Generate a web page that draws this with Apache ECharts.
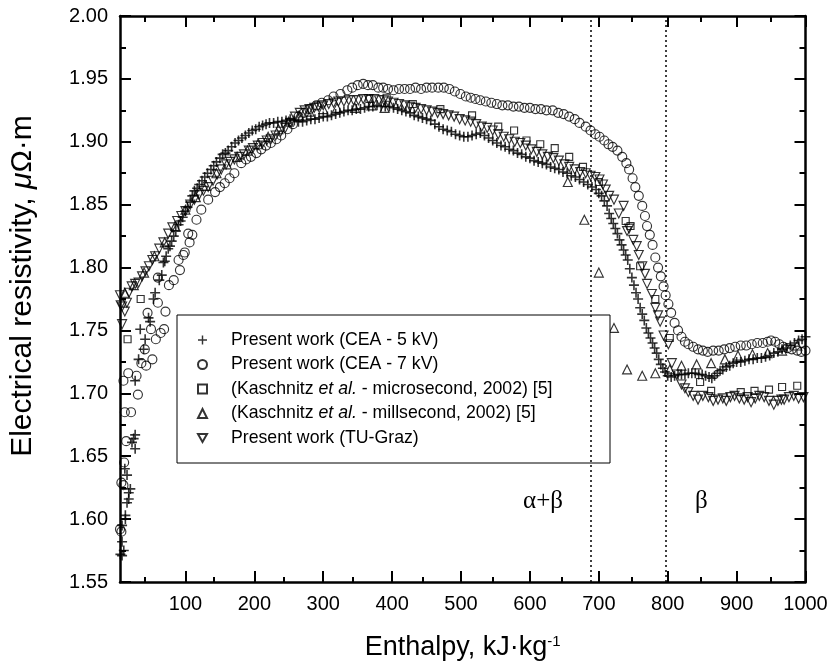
<!DOCTYPE html>
<html><head><meta charset="utf-8">
<script src="https://cdn.jsdelivr.net/npm/echarts/dist/echarts.min.js"></script>
<style>html,body{margin:0;padding:0;background:#fff}#c{width:833px;height:666px}</style>
</head><body><div id="c"></div>
<script>
const seriesNames = [
  'Present work (CEA - 5 kV)',
  'Present work (CEA - 7 kV)',
  '(Kaschnitz et al. - microsecond, 2002) [5]',
  '(Kaschnitz et al. - millsecond, 2002) [5]',
  'Present work (TU-Graz)'
];
const xMajorTicks = [100,200,300,400,500,600,700,800,900,1000];
const xMinorTicks = [50,150,250,350,450,550,650,750,850,950];
const phaseBoundaries = [688, 797];
const phaseLabels = [['α+β', 619, 1.614], ['β', 849, 1.614]];

const cea5kV = [[5.6,1.572],[8,1.571],[10.5,1.575],[8,1.582],[8,1.595],[12.8,1.600],[12.8,1.603],[15.2,1.613],[17.7,1.616],[17.7,1.621],[20,1.624],[15.2,1.635],[12,1.640],[27,1.656],[22.4,1.661],[24.8,1.664],[27,1.667],[27,1.710],[32,1.727],[39.2,1.735],[34.4,1.751],[41.5,1.743],[46.4,1.760],[48.7,1.757],[53.6,1.775],[56,1.780],[62,1.790],[65.6,1.794],
[68,1.804],[70,1.805],[72,1.809],[75,1.815],[77.5,1.817],[80,1.821],[83,1.825],[86,1.829],[90,1.834],[93,1.837],[96,1.840],[100,1.845],[103,1.848],[107,1.852],[110,1.857],[113,1.861],[117,1.863],[120,1.866],[124,1.869],[128,1.872],[132,1.875],[137,1.878],[141,1.881],[145,1.884],[150,1.887],[154,1.890],[158,1.891],[162,1.893],[167,1.896],[172,1.899],[177,1.901],[182,1.903],[187,1.905],[192,1.907],[197,1.909],[202,1.910],[207,1.912],[212,1.913],[217,1.914],[222,1.915],[228,1.915],[234,1.916],[240,1.916],[246,1.917],[252,1.918],[258,1.917],[264,1.916],[270,1.916],[276,1.917],[282,1.918],[288,1.918],[294,1.919],[300,1.920],[306,1.920],[312,1.921],[318,1.922],[324,1.923],[330,1.924],[336,1.925],[342,1.925],[348,1.926],[354,1.926],[360,1.927],[366,1.928],[372,1.928],[378,1.929],[384,1.928],[390,1.928],[396,1.928],[402,1.927],[408,1.926],[414,1.925],[420,1.924],[426,1.923],[432,1.921],[438,1.920],[444,1.919],[450,1.918],[456,1.917],[462,1.914],[468,1.912],[474,1.910],[480,1.909],[486,1.908],[492,1.906],[498,1.905],[504,1.904],[510,1.904],[516,1.905],[522,1.906],[528,1.907],[534,1.905],[540,1.903],[546,1.901],[552,1.899],[558,1.897],[564,1.896],[570,1.894],[576,1.893],[582,1.891],[588,1.890],[594,1.888],[600,1.887],[606,1.885],[612,1.884],[618,1.883],[624,1.882],[630,1.880],[636,1.879],[642,1.878],[648,1.876],[654,1.875],[660,1.873],[666,1.872],[672,1.870],[678,1.868],[684,1.866],[690,1.864],[696,1.862],[700,1.859],[704,1.857],[708,1.853],[712,1.849],[715,1.843],[718,1.839],[721,1.835],[724,1.831],[727,1.827],[730,1.822],[733,1.818],[736,1.814],[739,1.810],[742,1.806],[745,1.799],[748,1.792],[751,1.786],[754,1.780],[757,1.775],[760,1.768],[763,1.763],[766,1.758],[769,1.752],[772,1.748],[775,1.744],[778,1.740],[781,1.736],[784,1.732],[787,1.727],[790,1.723],[793,1.720],[796,1.717],[800,1.714],[805,1.713],[810,1.714],[815,1.715],[820,1.715],[825,1.715],[830,1.716],[835,1.716],[840,1.716],[845,1.715],[850,1.715],[855,1.714],[860,1.713],[864,1.712],[868,1.714],[872,1.716],[876,1.718],[880,1.719],[885,1.721],[890,1.722],[895,1.724],[900,1.725],[906,1.725],[912,1.726],[918,1.727],[924,1.727],[930,1.728],[936,1.728],[942,1.729],[948,1.730],[954,1.732],[960,1.733],[966,1.735],[972,1.736],[978,1.738],[984,1.740],[990,1.742],[995,1.743],[1000,1.745]];

const cea7kV = [[5,1.592],[7,1.590],[7,1.629],[10,1.627],[11,1.645],[14,1.662],[12,1.685],[21,1.685],[10,1.710],[17,1.716],[29,1.714],[31,1.699],[36,1.724],[43,1.722],[41,1.735],[52,1.727],[57,1.743],[64,1.748],[69,1.751],[50,1.751],[45,1.764],[60,1.772],[71,1.765],[76,1.786],[60,1.792],[83,1.790],[92,1.798],[90,1.806],[97,1.810],[99,1.812],[106,1.820],[104,1.827],[110,1.826],[116,1.838],[123,1.846],[133,1.854],[143,1.860],[150,1.864],[157,1.867],[164,1.871],[171,1.875],[181,1.883],[188,1.886],[195,1.888],[203,1.891],[210,1.894],[217,1.897],[224,1.899],[232,1.902],[239,1.905],[248,1.910],[256,1.914],[264,1.920],[272,1.923],[280,1.926],[290,1.929],[298,1.931],[307,1.933],[315,1.936],[325,1.938],[335,1.941],[342,1.943],[350,1.945],[358,1.946],[365,1.945],[372,1.945],[380,1.943],[387,1.943],[394,1.942],[402,1.941],[410,1.942],[418,1.942],[426,1.942],[434,1.943],[442,1.942],[450,1.943],[458,1.943],[467,1.943],[475,1.943],[483,1.942],[491,1.940],[499,1.938],[507,1.936],[514,1.935],[521,1.934],[528,1.933],[536,1.932],[544,1.931],[552,1.930],[560,1.929],[568,1.929],[576,1.928],[584,1.928],[592,1.927],[600,1.927],[608,1.926],[616,1.926],[624,1.925],[633,1.925],[641,1.923],[649,1.922],[657,1.920],[665,1.918],[672,1.915],[681,1.912],[688,1.909],[695,1.906],[701,1.904],[708,1.901],[714,1.898],[720,1.896],[727,1.893],[734,1.888],[740,1.883],[744,1.878],[749,1.871],[753,1.864],[758,1.857],[763,1.849],[767,1.841],[770,1.833],[774,1.826],[778,1.818],[782,1.808],[786,1.800],[790,1.793],[794,1.785],[797,1.778],[801,1.771],[805,1.764],[810,1.756],[815,1.750],[820,1.745],[825,1.741],[830,1.739],[837,1.737],[844,1.735],[851,1.734],[858,1.733],[866,1.734],[874,1.734],[882,1.735],[890,1.736],[898,1.737],[906,1.738],[914,1.738],[922,1.739],[930,1.740],[938,1.740],[945,1.741],[950,1.742],[956,1.741],[962,1.739],[968,1.737],[974,1.736],[980,1.735],[988,1.734],[994,1.733],[1000,1.734]];

const kaschnitzMicro = [[16,1.743],[35,1.775],[367,1.934],[392,1.935],[430,1.930],[470,1.926],[516,1.921],[554,1.912],[577,1.909],[595,1.901],[615,1.898],[636,1.895],[657,1.888],[677,1.880],[700,1.868],[739,1.837],[746,1.833],[760,1.801],[782,1.775],[803,1.744],[847,1.709],[863,1.702],[906,1.701],[926,1.702],[947,1.703],[966,1.705],[988,1.706]];

const kaschnitzMilli = [[12,1.780],[25,1.786],[40,1.796],[55,1.809],[70,1.820],[85,1.833],[100,1.846],[115,1.856],[130,1.865],[145,1.875],[160,1.882],[175,1.888],[190,1.893],[205,1.898],[220,1.904],[235,1.910],[250,1.916],[265,1.921],[280,1.924],[300,1.926],[320,1.927],[346,1.927],[370,1.929],[389,1.927],[655,1.868],[679,1.838],[700,1.796],[722,1.752],[741,1.719],[763,1.714],[782,1.716],[803,1.719],[820,1.722],[842,1.723],[863,1.724],[883,1.727],[902,1.730],[923,1.731],[945,1.732],[966,1.734],[988,1.738]];

const tuGraz = [[5,1.778],[6,1.770],[8,1.769],[8,1.755],[12,1.765],[15,1.772],[18,1.780],[22,1.785],[27,1.787],[32,1.788],[37,1.793],[42,1.797],[47,1.801],[52,1.806],[56,1.809],[62,1.815],[68,1.820],[75,1.827],[81,1.832],[88,1.837],[94,1.841],[100,1.845],[107,1.850],[113,1.854],[120,1.858],[126,1.861],[133,1.864],[140,1.869],[146,1.874],[152,1.878],[159,1.882],[165,1.884],[171,1.886],[178,1.888],[185,1.890],[192,1.893],[198,1.895],[205,1.897],[212,1.899],[218,1.901],[224,1.902],[231,1.905],[238,1.908],[245,1.911],[252,1.915],[259,1.920],[266,1.923],[273,1.925],[280,1.926],[287,1.927],[293,1.928],[300,1.929],[308,1.930],[315,1.931],[322,1.932],[330,1.932],[337,1.933],[344,1.933],[351,1.933],[358,1.934],[366,1.934],[374,1.934],[381,1.933],[388,1.933],[394,1.932],[402,1.931],[410,1.930],[418,1.929],[426,1.928],[434,1.927],[442,1.926],[450,1.925],[458,1.924],[466,1.923],[474,1.922],[482,1.921],[490,1.920],[498,1.918],[506,1.917],[514,1.916],[522,1.914],[530,1.912],[538,1.911],[546,1.909],[554,1.906],[562,1.904],[570,1.902],[578,1.900],[586,1.899],[594,1.897],[602,1.894],[610,1.892],[618,1.890],[626,1.888],[634,1.887],[642,1.885],[650,1.882],[657,1.880],[665,1.878],[673,1.876],[681,1.875],[688,1.873],[695,1.872],[701,1.870],[706,1.866],[710,1.862],[715,1.857],[722,1.854],[729,1.843],[736,1.849],[741,1.829],[744,1.831],[750,1.822],[755,1.817],[758,1.810],[763,1.801],[767,1.795],[770,1.787],[777,1.779],[782,1.768],[786,1.762],[789,1.757],[794,1.746],[801,1.739],[806,1.724],[813,1.715],[820,1.707],[825,1.704],[830,1.701],[837,1.698],[844,1.695],[851,1.698],[859,1.697],[866,1.694],[873,1.695],[880,1.696],[885,1.694],[891,1.697],[897,1.698],[904,1.696],[911,1.695],[916,1.697],[921,1.693],[927,1.696],[933,1.698],[940,1.697],[947,1.694],[954,1.691],[960,1.694],[965,1.695],[969,1.695],[976,1.697],[983,1.698],[990,1.696],[997,1.697]];

const FONT = 'Liberation Sans';
const chart = echarts.init(document.getElementById('c'), null, {renderer: 'canvas'});
const plusPath = 'path://M4.2,0H5.8V4.2H10V5.8H5.8V10H4.2V5.8H0V4.2H4.2Z';
const downTri = 'path://M0,0L10,0L5,8.66Z';
const hollow = {color: 'rgba(0,0,0,0)', borderColor: '#000', borderWidth: 1.15};
const gridBox = {left: 113, right: 27.5, top: 16, bottom: 83};
const XMIN = 5, XMAX = 1000, YMIN = 1.55, YMAX = 2.0;

const majorX = (pos, labels) => ({
  gridIndex: 0, type: 'value', position: pos, min: XMIN, max: XMAX,
  axisLine: {show: true, lineStyle: {color: '#000', width: 2.5}},
  axisTick: {show: true, inside: true, length: 11, customValues: xMajorTicks, lineStyle: {color: '#000', width: 2}},
  axisLabel: labels ? {show: true, customValues: xMajorTicks, fontSize: 20, fontFamily: FONT, color: '#000', margin: 12, formatter: v => String(v)} : {show: false},
  splitLine: {show: false}
});
const minorX = (pos) => ({
  gridIndex: 1, type: 'value', position: pos, min: XMIN, max: XMAX,
  axisLine: {show: false},
  axisTick: {show: true, inside: true, length: 6, customValues: xMinorTicks, lineStyle: {color: '#000', width: 2}},
  axisLabel: {show: false}, splitLine: {show: false}
});
const yAx = (pos, labels) => ({
  gridIndex: 0, type: 'value', position: pos, min: YMIN, max: YMAX, interval: 0.05,
  axisLine: {show: true, lineStyle: {color: '#000', width: 2.5}},
  axisTick: {show: true, inside: true, length: 11, lineStyle: {color: '#000', width: 2}},
  minorTick: {show: true, splitNumber: 2, length: 6, lineStyle: {color: '#000', width: 2}},
  axisLabel: labels ? {show: true, fontSize: 20, fontFamily: FONT, color: '#000', margin: 12, formatter: v => v.toFixed(2)} : {show: false},
  splitLine: {show: false}
});

const xBottom = majorX('bottom', true);
xBottom.name = 'Enthalpy, kJ·kg{sup|-1}';
xBottom.nameLocation = 'middle';
xBottom.nameGap = 52;
xBottom.nameTextStyle = {fontSize: 27, fontFamily: FONT, color: '#000',
  rich: {sup: {fontSize: 15, fontFamily: FONT, color: '#000', verticalAlign: 'top', lineHeight: 15}}};
const yLeft = yAx('left', true);
yLeft.name = 'Electrical resistivity, {i|μ}Ω·m';
yLeft.nameLocation = 'middle';
yLeft.nameGap = 82;
yLeft.nameTextStyle = {fontSize: 30, fontFamily: FONT, color: '#000', padding: [0, 0, 0, 26],
  rich: {i: {fontStyle: 'italic', fontSize: 30, fontFamily: FONT, color: '#000'}}};

const mk = (name, data, symbol, size, style, extra) => Object.assign({
  name, type: 'scatter', data, symbol, symbolSize: size, itemStyle: style,
  xAxisIndex: 0, yAxisIndex: 0, silent: true, emphasis: {disabled: true}
}, extra || {});

chart.setOption({
  animation: false,
  backgroundColor: '#fff',
  grid: [Object.assign({}, gridBox), Object.assign({}, gridBox)],
  xAxis: [xBottom, majorX('top', false), minorX('bottom'), minorX('top')],
  yAxis: [yLeft, yAx('right', false), {gridIndex: 1, type: 'value', show: false, min: YMIN, max: YMAX}],
  legend: {
    orient: 'vertical', left: 197, top: 330, padding: 0, itemGap: 4.5,
    itemWidth: 9, itemHeight: 9, selectedMode: false, z: 5,
    data: seriesNames,
    formatter: n => n.replace('et al.', '{i|et al.}'),
    textStyle: {fontSize: 17.7, fontFamily: FONT, color: '#000', lineHeight: 20, padding: [0, 0, 0, 19],
      rich: {i: {fontStyle: 'italic', fontSize: 17.7, fontFamily: FONT, color: '#000', lineHeight: 20}}}
  },
  series: [
    mk(seriesNames[0], cea5kV, plusPath, 10, {color: '#000'}, {
      markLine: {silent: true, symbol: 'none', label: {show: false},
        lineStyle: {color: '#000', type: [2, 3], width: 1.5},
        data: phaseBoundaries.map(v => ({xAxis: v}))}
    }),
    mk(seriesNames[1], cea7kV, 'circle', 9, hollow),
    mk(seriesNames[2], kaschnitzMicro, 'rect', 7, hollow),
    mk(seriesNames[3], kaschnitzMilli, 'triangle', 9, hollow),
    mk(seriesNames[4], tuGraz, downTri, 9, hollow)
  ]
});

const labelEls = phaseLabels.map(([t, x, y]) => {
  const p = chart.convertToPixel({gridIndex: 0}, [x, y]);
  return {type: 'text', x: p[0], y: p[1], z: 6, silent: true,
    style: {text: t, font: '25px "Liberation Serif"', fill: '#000', textAlign: 'center', textVerticalAlign: 'middle'}};
});
chart.setOption({graphic: [{type: 'rect', z: 4, shape: {x: 177, y: 315, width: 433, height: 148},
  style: {fill: '#fff', stroke: '#000', lineWidth: 1}, silent: true}].concat(labelEls)});
</script></body></html>
